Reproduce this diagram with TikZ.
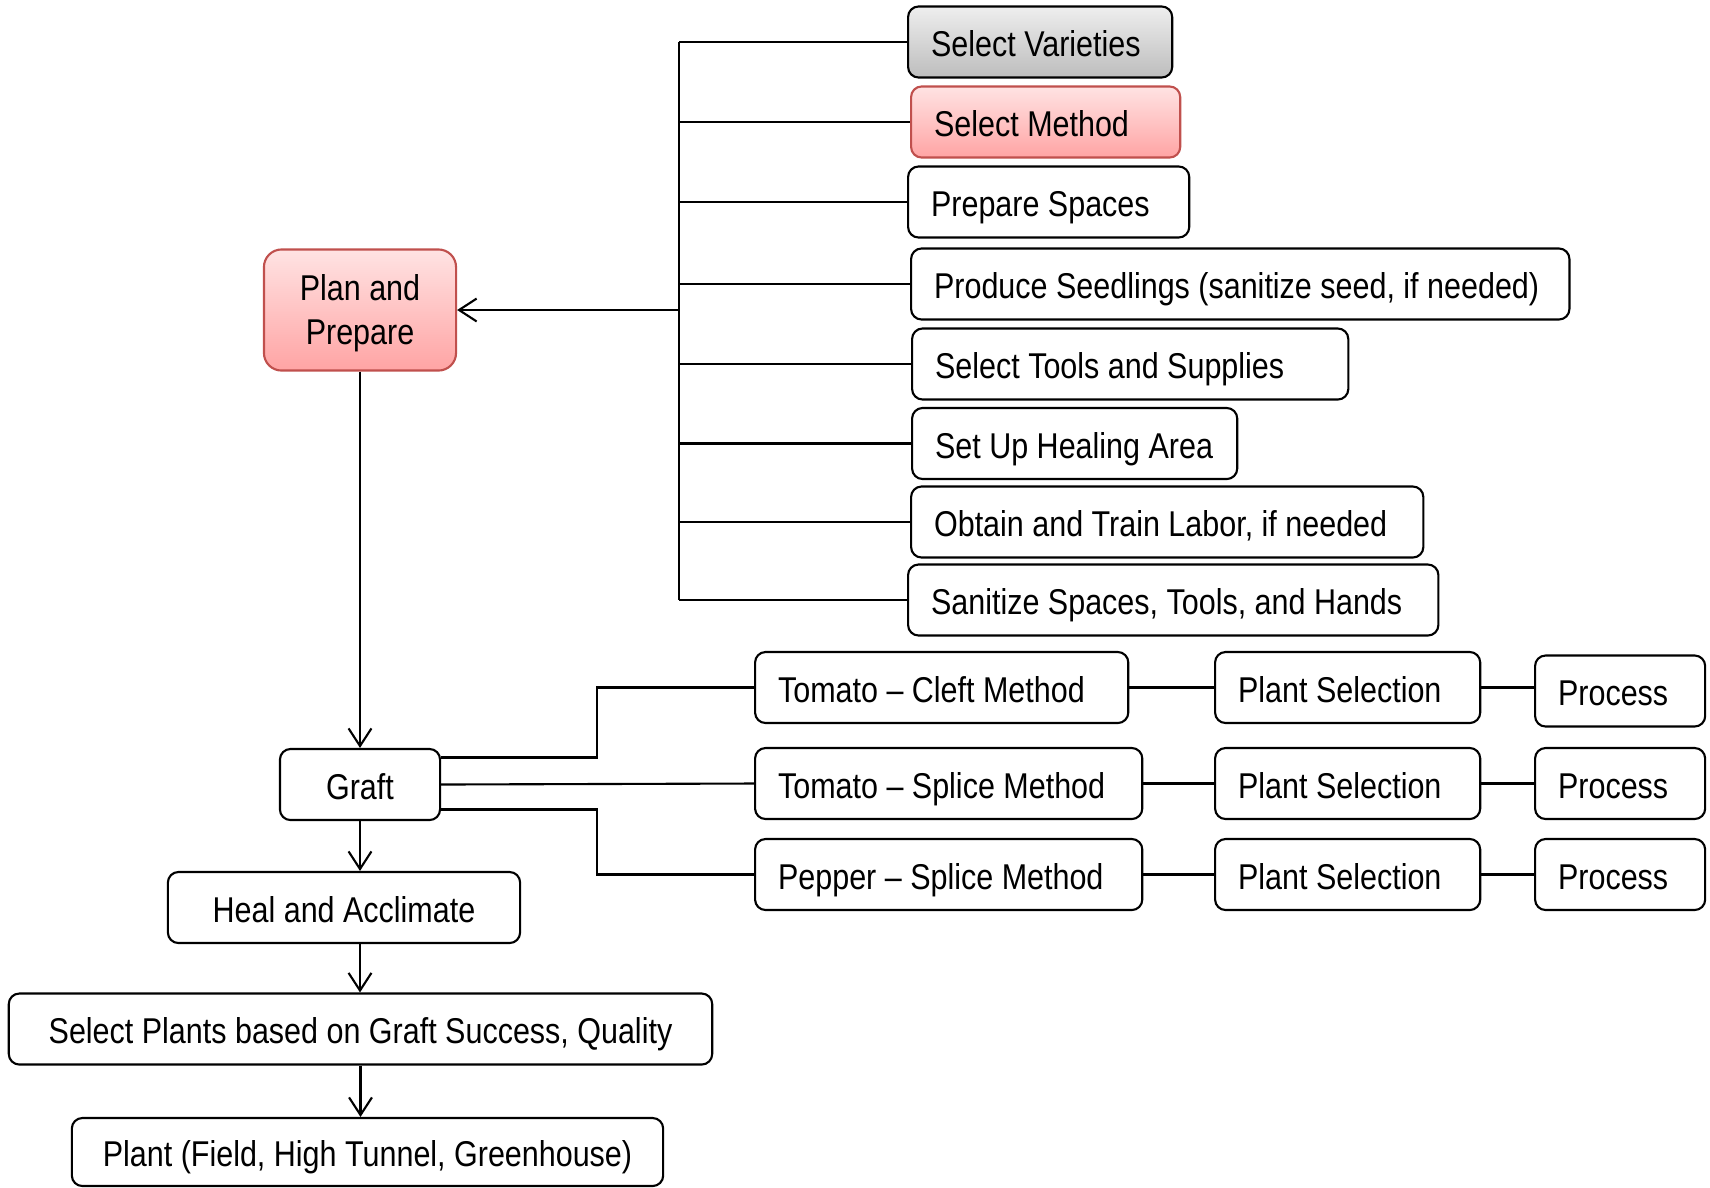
\documentclass[tikz,border=0pt]{standalone}
\usepackage{fontspec}
\setmainfont[FakeStretch=0.85]{Liberation Sans}
\usetikzlibrary{arrows.meta}
\usetikzlibrary{positioning}

\definecolor{pinktop}{HTML}{FFE3E3}
\definecolor{pinkbot}{HTML}{FFA4A4}
\definecolor{pinkline}{HTML}{C0504D}
\definecolor{graytop}{HTML}{EEEEEE}
\definecolor{graybot}{HTML}{BDBDBD}

\begin{document}
\begin{tikzpicture}[x=0.01cm,y=-0.01cm,line width=0.6pt,
  font=\fontsize{10.2}{12.6}\selectfont,
  every node/.style={draw,rounded corners=3pt,minimum height=0.71cm,inner xsep=0.23cm,inner ysep=0pt},
  oneline/.style={text height=0.36cm,text depth=0.07cm},
  lbox/.style={oneline,anchor=west,align=flush left},
  cbox/.style={oneline,align=center},
  pinkbox/.style={draw=pinkline,top color=pinktop,bottom color=pinkbot},
  graybox/.style={top color=graytop,bottom color=graybot},
  arr/.style={-{Straight Barb[length=5pt,width=6.5pt]}}]
  \useasboundingbox (0,0) rectangle (1710,1187);
  % planning tasks
  \node[lbox,graybox,text width=2.18cm] (var) at (907,42) {Select Varieties};
  \node[lbox,pinkbox,text width=2.23cm] (meth) at (910,122) {Select Method};
  \node[lbox,text width=2.35cm] (spaces) at (907,202) {Prepare Spaces};
  \node[lbox,text width=6.12cm] (seed) at (910,284) {Produce Seedlings (sanitize seed, if needed)};
  \node[lbox,text width=3.90cm] (tools) at (911,364) {Select Tools and Supplies};
  \node[lbox,text width=2.79cm] (area) at (911,443.5) {Set Up Healing Area};
  \node[lbox,text width=4.66cm] (labor) at (910,522) {Obtain and Train Labor, if needed};
  \node[lbox,text width=4.84cm] (sanit) at (907,600) {Sanitize Spaces, Tools, and Hands};
  % main steps
  \node[align=center,pinkbox,rounded corners=5pt,minimum width=1.92cm,minimum height=1.21cm] (plan) at (360,310) {\rule{0pt}{0.32cm}Plan and\\Prepare};
  \node[cbox,minimum width=1.60cm] (graft) at (360,784.5) {Graft};
  \node[cbox,minimum width=3.52cm] (heal) at (344,907.5) {Heal and Acclimate};
  \node[cbox,minimum width=7.03cm] (sel) at (360.5,1029) {Select Plants based on Graft Success, Quality};
  \node[cbox,minimum width=5.91cm,minimum height=0.68cm] (plant) at (367.5,1152) {Plant (Field, High Tunnel, Greenhouse)};
  % grafting methods
  \node[lbox,text width=3.27cm] (cleft) at (754,687.5) {Tomato -- Cleft Method};
  \node[lbox,text width=3.41cm] (tspl) at (754,783.5) {Tomato -- Splice Method};
  \node[lbox,text width=3.41cm] (pspl) at (754,874.5) {Pepper -- Splice Method};
  \node[lbox,text width=2.19cm] (ps1) at (1214,687.5) {Plant Selection};
  \node[lbox,text width=2.19cm] (ps2) at (1214,783.5) {Plant Selection};
  \node[lbox,text width=2.19cm] (ps3) at (1214,874.5) {Plant Selection};
  \node[lbox,text width=1.24cm] (pr1) at (1534,691) {Process};
  \node[lbox,text width=1.24cm] (pr2) at (1534,783.5) {Process};
  \node[lbox,text width=1.24cm] (pr3) at (1534,874.5) {Process};

  \coordinate (bus) at (679,41);
  \coordinate (elb) at (597,700);
  \draw (bus|-var.west)--(bus|-sanit.west);
  \foreach \t in {var,meth,spaces,seed,tools,area,labor,sanit}
    \draw (bus|-\t.west)--(\t.west);
  \draw[arr] (bus|-plan.east)--(plan.east);
  \draw[arr] (plan.south)--(graft.north);
  \draw[arr] (graft.south)--(graft.south|-heal.north);
  \draw[arr] (graft.south|-heal.south)--(graft.south|-sel.north);
  \draw[arr] (sel.south)--(sel.south|-plant.north);
  \draw ([yshift=0.27cm]graft.east)-|(elb|-cleft.west)--(cleft.west);
  \draw (graft.east)--(tspl.west);
  \draw ([yshift=-0.25cm]graft.east)-|(elb|-pspl.west)--(pspl.west);
  \draw (cleft.east)--(ps1.west);
  \draw (tspl.east)--(ps2.west);
  \draw (pspl.east)--(ps3.west);
  \draw (ps1.east)--(ps1.east-|pr1.west);
  \draw (ps2.east)--(pr2.west);
  \draw (ps3.east)--(pr3.west);
\end{tikzpicture}
\end{document}
